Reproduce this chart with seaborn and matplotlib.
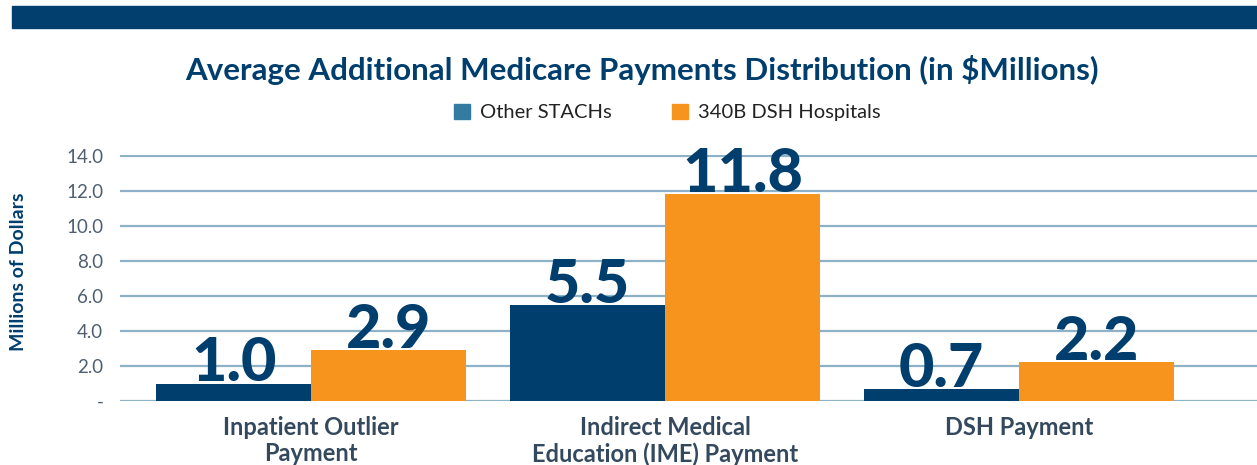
import numpy as np
import matplotlib
matplotlib.use("Agg")
import matplotlib.pyplot as plt
from matplotlib.patches import Patch, Rectangle
import seaborn as sns
import pandas as pd

# ── Data ──────────────────────────────────────────────────────────────────────
categories = ["Inpatient Outlier\nPayment",
              "Indirect Medical\nEducation (IME) Payment",
              "DSH Payment"]
series_names = ["Other STACHs", "340B DSH Hospitals"]
other_stachs = [1.0, 5.5, 0.7]
dsh_340b = [2.9, 11.8, 2.2]
y_ticks = [0, 2, 4, 6, 8, 10, 12, 14]
y_tick_labels = ["-", "2.0", "4.0", "6.0", "8.0", "10.0", "12.0", "14.0"]

NAVY = "#003E6E"
ORANGE = "#F7941E"
LEGEND_BLUE = "#337BA1"
GRID = "#8DB2C8"
TICK_GRAY = "#4F5F70"

df = pd.DataFrame({
    "category": categories * 2,
    "series": [series_names[0]] * 3 + [series_names[1]] * 3,
    "value": other_stachs + dsh_340b,
})

sns.set_theme(style="white")
plt.rcParams["font.family"] = ["Lato", "DejaVu Sans"]

fig = plt.figure(figsize=(12.57, 4.65), dpi=100)
ax = fig.add_axes([0.0955, 0.1376, 0.9045, 0.5291])

sns.barplot(data=df, x="category", y="value", hue="series",
            palette=[NAVY, ORANGE], width=0.875, gap=0,
            saturation=1, legend=False, linewidth=0, ax=ax)

# value labels on top of each bar
for cont in ax.containers:
    for bar in cont:
        h = bar.get_height()
        ax.annotate(f"{h:.1f}", (bar.get_x() + bar.get_width() / 2, h),
                    xytext=(0, 1.5), textcoords="offset points",
                    ha="center", va="baseline", fontsize=44,
                    fontweight="black", color=NAVY, zorder=5)

ax.set_ylim(0, 14.05)
ax.set_xlim(-0.54, 2.672)
ax.set_yticks(y_ticks)
ax.set_yticklabels(y_tick_labels, fontsize=13.5, color=TICK_GRAY)
ax.tick_params(axis="y", length=0, pad=12)
ax.tick_params(axis="x", length=0, pad=11)
ax.set_xticks(range(len(categories)))
ax.set_xticklabels(categories, fontsize=17, fontweight="bold",
                   color="#34495E", linespacing=1.15, va="top")
ax.yaxis.grid(True, color=GRID, linewidth=1.6)
ax.set_axisbelow(True)
for s in ax.spines.values():
    s.set_visible(False)
ax.set_xlabel("")
ax.set_ylabel("")

fig.text(0.015, 0.415, "Millions of Dollars", rotation=90, ha="center",
         va="center", fontsize=14, fontweight="bold", color=NAVY)

# header band
fig.patches.append(Rectangle((12 / 1257, 1 - 28 / 465), 1 - 12 / 1257, 22 / 465,
                             transform=fig.transFigure, color="#023E6E",
                             zorder=0))

fig.text(0.511, 0.85, "Average Additional Medicare Payments Distribution (in $Millions)",
         ha="center", va="center", fontsize=22.5, fontweight="bold", color=NAVY)

handles = [Patch(color=LEGEND_BLUE, label=series_names[0]),
           Patch(color=ORANGE, label=series_names[1])]
fig.legend(handles=handles, loc="center", bbox_to_anchor=(0.531, 0.758),
           ncol=2, frameon=False, fontsize=14.5, handlelength=0.8,
           handleheight=0.8, handletextpad=0.5, columnspacing=3,
           labelcolor="#222222")

fig.savefig("out.png", dpi=100)
